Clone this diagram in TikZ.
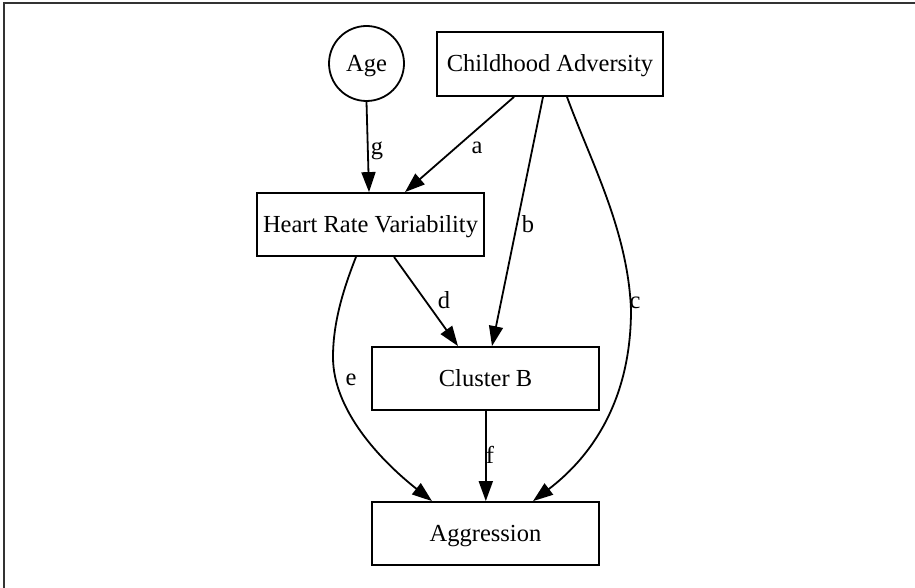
\documentclass[tikz,border=0pt]{standalone}
\usepackage{fontspec}
\setmainfont{Liberation Serif}
\usetikzlibrary{arrows.meta}
\begin{document}
\begin{tikzpicture}[x=1pt,y=-1pt,
  every node/.style={font=\fontsize{24.5}{29}\selectfont},
  box/.style={draw, line width=1.8pt, rectangle, minimum width=227pt, minimum height=63pt, inner sep=0pt, text height=15.5pt, text depth=0pt},
  circ/.style={draw, line width=1.8pt, circle, minimum size=75pt, inner sep=0pt, text height=15.5pt, text depth=0pt},
  conn/.style={line width=1.8pt, -{Triangle[length=20pt,width=14pt]}},
  lbl/.style={inner sep=0pt, anchor=base}]
\useasboundingbox (0,0) rectangle (915,588);
\draw[line width=1.5pt, black!80] (4,588) -- (4,3) -- (915,3);

\node[circ] (age) at (366.5,63.5) {Age};
\node[box, minimum width=226pt, minimum height=64pt] (ca) at (550,64) {Childhood Adversity};
\node[box] (hrv) at (370.5,224.5) {Heart Rate Variability};
\node[box] (cb) at (485.5,378.5) {Cluster B};
\node[box] (ag) at (485.5,533.5) {Aggression};

\draw[conn] (age.south) -- ([xshift=-1.5pt]hrv.north);
\draw[conn] ([xshift=-36pt]ca.south) -- ([xshift=34.5pt]hrv.north);
\draw[conn] ([xshift=-7pt]ca.south) -- ([xshift=6.5pt]cb.north);
\draw[conn] ([xshift=17pt]ca.south) .. controls (590,160) and (628,230) .. (631,310)
  .. controls (631,390) and (600,450) .. ([xshift=47.5pt]ag.north);
\draw[conn] ([xshift=23.5pt]hrv.south) -- ([xshift=-27.5pt]cb.north);
\draw[conn] ([xshift=-14.5pt]hrv.south) .. controls (345,285) and (333,320) .. (333,357)
  .. controls (333,410) and (380,460) .. ([xshift=-53.5pt]ag.north);
\draw[conn] ([xshift=0.3pt]cb.south) -- ([xshift=0.3pt]ag.north);

\node[lbl] (lg) at (377,155) {g};
\node[lbl] (la) at (477,154) {a};
\node[lbl] (lb) at (528,232) {b};
\node[lbl] (lc) at (635,308) {c};
\node[lbl] (ld) at (444,308) {d};
\node[lbl] (le) at (351,385) {e};
\node[lbl] (lf) at (490,463) {f};
\end{tikzpicture}
\end{document}
